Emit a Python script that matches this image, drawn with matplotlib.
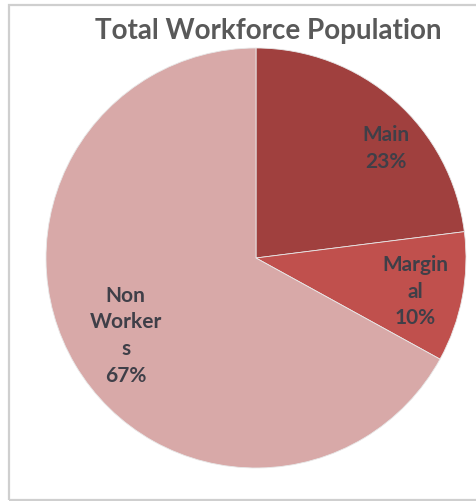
import matplotlib.pyplot as plt
from matplotlib.patches import Rectangle

# data
categories = ["Main", "Marginal", "Non Workers"]
shares = [23, 10, 67]
label_text = ["Main", "Margin\nal", "Non\nWorker\ns"]
colors = ["#A0403E", "#C0504D", "#D8A9A8"]

fig = plt.figure(figsize=(4.76, 5.01), dpi=100)

# gray frame like the Excel chart border (right side is cut off)
fig.patches.append(Rectangle((9 / 476, 1.5 / 501), 1.2, 1 - 6.5 / 501,
                             transform=fig.transFigure, fill=False,
                             edgecolor="#CFCFCF", linewidth=1.6))

ax = fig.add_axes([0.0966, 0.0659, 0.8824, 0.8383])
wedges, _ = ax.pie(shares, colors=colors, startangle=90, counterclock=False,
                   wedgeprops=dict(linewidth=0.6, edgecolor="#E8E8E8"))
ax.set_xlim(-1, 1)
ax.set_ylim(-1, 1)
ax.set_aspect("equal")

# label spots picked to sit where Excel put them
spots = [(0.62, 0.52), (0.757, -0.16), (-0.62, -0.37)]
for txt, val, (x, y) in zip(label_text, shares, spots):
    ax.text(x, y, f"{txt}\n{val}%", ha="center", va="center",
            fontsize=15, fontweight="bold", family="Lato", color="#3F3F48",
            linespacing=1.42)

fig.text(0.563, 0.938, "Total Workforce Population", ha="center", va="center",
         fontsize=20, fontweight="bold", family="Lato", color="#595959")

fig.savefig("out.png", dpi=100)
